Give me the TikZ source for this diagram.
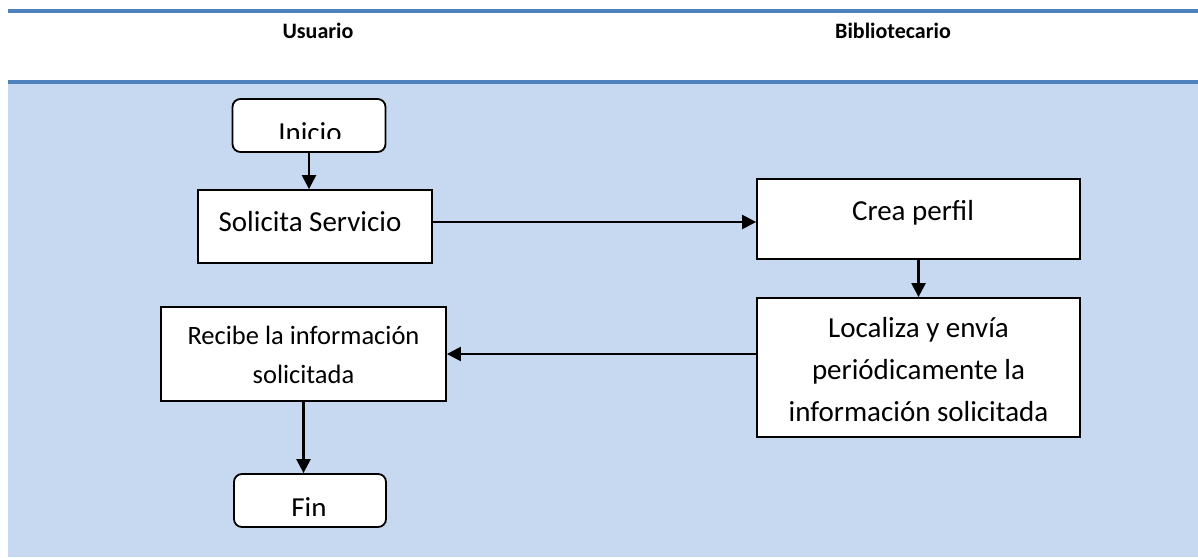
\documentclass[tikz,border=0pt]{standalone}
\usepackage{fontspec}
\setmainfont{Carlito}
\usepackage{tikz}
\usetikzlibrary{arrows.meta}
\definecolor{lineblue}{HTML}{4F81BD}
\definecolor{laneblue}{HTML}{C6D9F0}

\begin{document}
\begin{tikzpicture}[x=1pt,y=-1pt]
        \tikzstyle{every node}=[font=\fontsize{29}{42}\selectfont,align=center,inner sep=0pt]
        \tikzstyle{caja}=[draw,line width=1.8pt,fill=white,shape=rectangle]
        \tikzstyle{term}=[caja,rounded corners=8pt]
        \tikzstyle{flecha}=[line width=2.4pt,-{Triangle[length=14pt,width=14pt]}]
        \tikzstyle{titulo}=[font=\fontsize{22}{26}\selectfont\bfseries]
            \useasboundingbox (0,0) rectangle (1198,557);
            % fondo y lineas
            \fill[laneblue] (8,83) rectangle (1198,557);
            \fill[lineblue] (8,9) rectangle (1198,12.5);
            \fill[lineblue] (8,80) rectangle (1198,83.5);

            \node[titulo] (usr) at (318,31) {Usuario};
            \node[titulo] (bib) at (893,31) {Bibliotecario};

            \node[term,minimum width=153pt,minimum height=53pt] (inicio) at (309,125.5) {};
            \begin{scope}
                \clip (240,105) rectangle (380,138);
                \node (tinicio) at (310,133) {Inicio};
            \end{scope}
            \node[caja,minimum width=234pt,minimum height=73pt] (solicita) at (315,226.5) {};
            \node (tsolicita) at (310,222) {Solicita Servicio};
            \node[caja,minimum width=323pt,minimum height=80pt] (crea) at (918.5,219) {};
            \node (tcrea) at (913,213) {Crea perfil};
            \node[caja,minimum width=323pt,minimum height=139pt] (localiza) at (918.5,367.5) {};
            \node (tlocaliza) at (918.5,370) {Localiza y envía\\periódicamente la\\información solicitada};
            \node[caja,minimum width=285pt,minimum height=94pt] (recibe) at (303.5,354) {};
            \node[font=\fontsize{26.5}{39}\selectfont] (trecibe) at (303.5,355) {Recibe la información\\solicitada};
            \node[term,minimum width=152pt,minimum height=53pt] (fin) at (310,500.5) {};
            \begin{scope}
                \clip (240,480) rectangle (380,515);
                \node (tfin) at (309,508) {Fin};
            \end{scope}

            \draw[flecha] (inicio.south) -- (inicio.south |- solicita.north);
            \draw[flecha] (solicita.east |- 0,222) -- (crea.west |- 0,222);
            \draw[flecha] (crea.south) -- (localiza.north);
            \draw[flecha] (recibe.east -| localiza.west) -- (recibe.east);
            \draw[flecha] (recibe.south) -- (recibe.south |- fin.north);
        \end{tikzpicture}
\end{document}
